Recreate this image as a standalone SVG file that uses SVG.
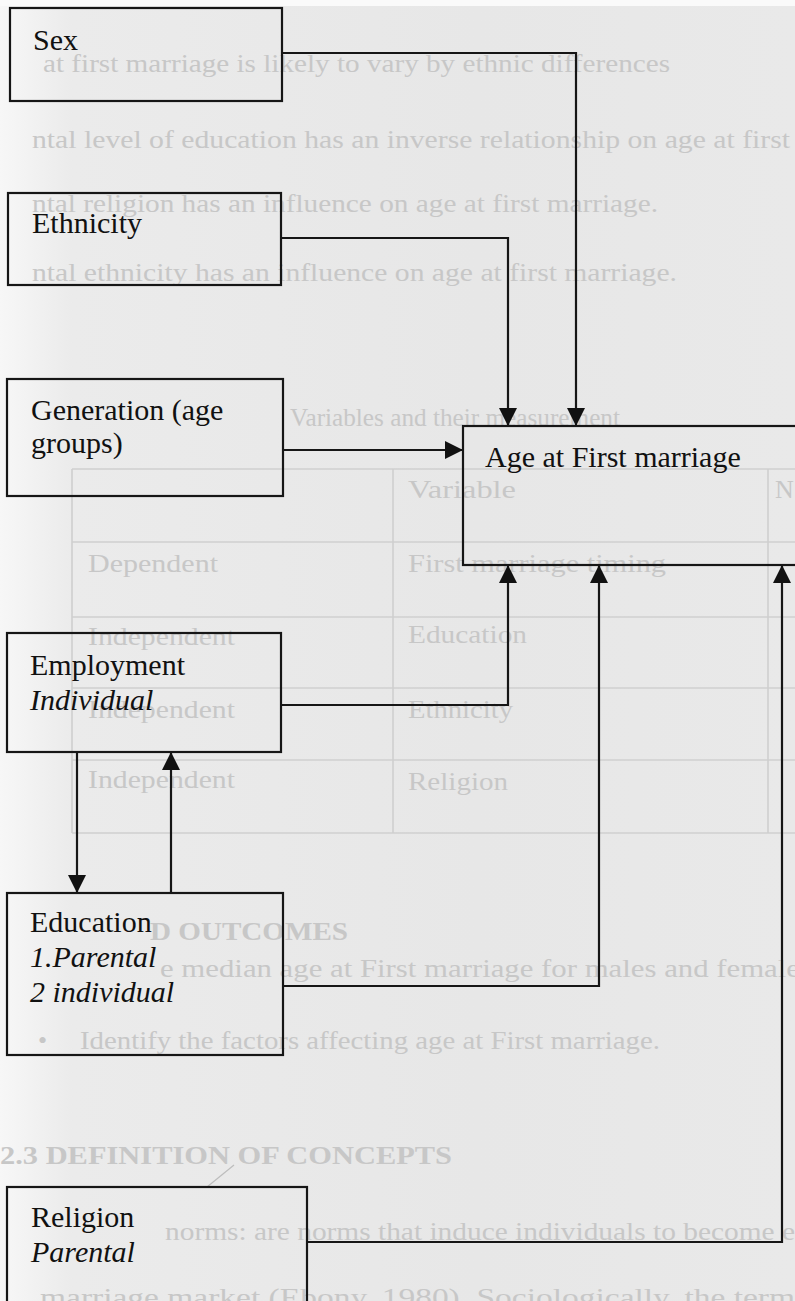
<svg xmlns="http://www.w3.org/2000/svg" width="795" height="1301" viewBox="0 0 795 1301">
<defs>
<linearGradient id="page" x1="0" y1="0" x2="1" y2="0">
<stop offset="0" stop-color="#f7f7f7"/>
<stop offset="0.09" stop-color="#ebebeb"/>
<stop offset="0.6" stop-color="#e7e7e7"/>
<stop offset="1" stop-color="#e9e9e9"/>
</linearGradient>
<marker id="arr" viewBox="0 0 18 18" refX="18" refY="9" markerWidth="18" markerHeight="18" markerUnits="userSpaceOnUse" orient="auto">
<path d="M0,0 L18,9 L0,18 z" fill="#111"/>
</marker>
<style>
.box{fill:none;stroke:#161616;stroke-width:2.2}
.lbl{font-family:"Liberation Serif","Times New Roman",serif;font-size:30px;fill:#111}
.it{font-style:italic}
.con{fill:none;stroke:#161616;stroke-width:2.2}
.ghost{font-family:"Liberation Serif","Times New Roman",serif;font-size:26px;fill:#c7c7c7}
.gb{font-weight:bold}
.gline{stroke:#cfcfcf;stroke-width:1.6;fill:none}
</style>
</defs>
<rect x="0" y="0" width="795" height="1301" fill="url(#page)"/>
<rect x="0" y="0" width="795" height="6" fill="#fafafa"/>

<g id="background-showthrough">
<text class="ghost" x="43" y="72" textLength="627" lengthAdjust="spacingAndGlyphs">at first marriage is likely to vary by ethnic differences</text>
<text class="ghost" x="32" y="148" textLength="758" lengthAdjust="spacingAndGlyphs">ntal level of education has an inverse relationship on age at first</text>
<text class="ghost" x="32" y="212" textLength="626" lengthAdjust="spacingAndGlyphs">ntal religion has an influence on age at first marriage.</text>
<text class="ghost" x="32" y="281" textLength="645" lengthAdjust="spacingAndGlyphs">ntal ethnicity has an influence on age at first marriage.</text>
<text class="ghost" x="290" y="426" textLength="330" lengthAdjust="spacingAndGlyphs">Variables and their measurement</text>
<path class="gline" d="M72,469 H795 M72,542 H795 M72,617 H795 M72,688 H795 M72,760 H795 M72,833 H795 M72,469 V833 M393,469 V833 M768,469 V833"/>
<text class="ghost" x="408" y="498" textLength="108" lengthAdjust="spacingAndGlyphs">Variable</text>
<text class="ghost" x="775" y="498">N</text>
<text class="ghost" x="88" y="572" textLength="130" lengthAdjust="spacingAndGlyphs">Dependent</text>
<text class="ghost" x="408" y="572" textLength="258" lengthAdjust="spacingAndGlyphs">First marriage timing</text>
<text class="ghost" x="88" y="645" textLength="147" lengthAdjust="spacingAndGlyphs">Independent</text>
<text class="ghost" x="408" y="643" textLength="119" lengthAdjust="spacingAndGlyphs">Education</text>
<text class="ghost" x="88" y="718" textLength="147" lengthAdjust="spacingAndGlyphs">Independent</text>
<text class="ghost" x="408" y="718" textLength="105" lengthAdjust="spacingAndGlyphs">Ethnicity</text>
<text class="ghost" x="88" y="788" textLength="147" lengthAdjust="spacingAndGlyphs">Independent</text>
<text class="ghost" x="408" y="790" textLength="100" lengthAdjust="spacingAndGlyphs">Religion</text>
<text class="ghost gb" x="150" y="940" textLength="198" lengthAdjust="spacingAndGlyphs">D OUTCOMES</text>
<text class="ghost" x="160" y="977" textLength="640" lengthAdjust="spacingAndGlyphs">e median age at First marriage for males and female</text>
<text class="ghost" x="38" y="1049">•</text>
<text class="ghost" x="80" y="1049" textLength="580" lengthAdjust="spacingAndGlyphs">Identify the factors affecting age at First marriage.</text>
<text class="ghost gb" x="0" y="1164" textLength="452" lengthAdjust="spacingAndGlyphs">2.3 DEFINITION OF CONCEPTS</text>
<text class="ghost" x="165" y="1240" textLength="630" lengthAdjust="spacingAndGlyphs">norms: are norms that induce individuals to become e</text>
<text class="ghost" x="40" y="1306" textLength="755" lengthAdjust="spacingAndGlyphs">marriage market (Ebony, 1980). Sociologically, the term</text>
<path d="M207,1187 L234,1165" stroke="#bdbdbd" stroke-width="1.2"/>
</g>

<g id="connectors">
<path class="con" d="M282,53 H576 V426" marker-end="url(#arr)"/>
<path class="con" d="M281,238 H508 V426" marker-end="url(#arr)"/>
<path class="con" d="M283,450 H463" marker-end="url(#arr)"/>
<path class="con" d="M281,705 H508 V565" marker-end="url(#arr)"/>
<path class="con" d="M283,986 H599 V565" marker-end="url(#arr)"/>
<path class="con" d="M307,1242 H782 V565" marker-end="url(#arr)"/>
<path class="con" d="M77,752 V893" marker-end="url(#arr)"/>
<path class="con" d="M171,893 V752" marker-end="url(#arr)"/>
</g>

<g id="node-sex">
<rect class="box" x="10" y="8" width="272" height="93"/>
<text class="lbl" x="33" y="50">Sex</text>
</g>
<g id="node-ethnicity">
<rect class="box" x="8" y="193" width="273" height="92"/>
<text class="lbl" x="32" y="233">Ethnicity</text>
</g>
<g id="node-generation">
<rect class="box" x="7" y="379" width="276" height="117"/>
<text class="lbl" x="31" y="420">Generation (age</text>
<text class="lbl" x="31" y="453">groups)</text>
</g>
<g id="node-age">
<rect class="box" x="463" y="426" width="360" height="139"/>
<text class="lbl" x="485" y="467">Age at First marriage</text>
</g>
<g id="node-employment">
<rect class="box" x="7" y="633" width="274" height="119"/>
<text class="lbl" x="30" y="675">Employment</text>
<text class="lbl it" x="30" y="710">Individual</text>
</g>
<g id="node-education">
<rect class="box" x="7" y="893" width="276" height="162"/>
<text class="lbl" x="30" y="932">Education</text>
<text class="lbl it" x="30" y="967">1.Parental</text>
<text class="lbl it" x="30" y="1002">2 individual</text>
</g>
<g id="node-religion">
<rect class="box" x="7" y="1187" width="300" height="130"/>
<text class="lbl" x="31" y="1227">Religion</text>
<text class="lbl it" x="31" y="1262">Parental</text>
</g>
</svg>
